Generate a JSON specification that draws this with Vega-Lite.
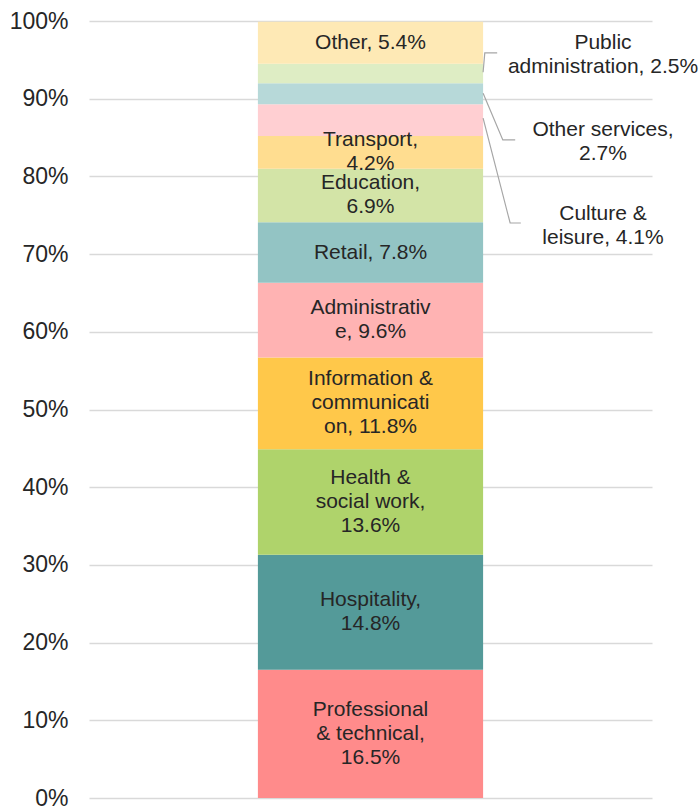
{
  "$schema": "https://vega.github.io/schema/vega-lite/v6.json",
  "width": 563,
  "height": 777,
  "autosize": {"type": "none"},
  "padding": {"left": 89, "top": 21, "right": 48, "bottom": 12},
  "background": "white",
  "config": {
    "view": {"stroke": null},
    "font": "Liberation Sans",
    "text": {"font": "Liberation Sans"}
  },
  "datasets": {
    "segments": [
      {"sector": "Professional & technical", "order": 1, "value": 16.5, "label": "Professional\n& technical,\n16.5%"},
      {"sector": "Hospitality", "order": 2, "value": 14.8, "label": "Hospitality,\n14.8%"},
      {"sector": "Health & social work", "order": 3, "value": 13.6, "label": "Health &\nsocial work,\n13.6%"},
      {"sector": "Information & communication", "order": 4, "value": 11.8, "label": "Information &\ncommunicati\non, 11.8%"},
      {"sector": "Administrative", "order": 5, "value": 9.6, "label": "Administrativ\ne, 9.6%"},
      {"sector": "Retail", "order": 6, "value": 7.8, "label": "Retail, 7.8%"},
      {"sector": "Education", "order": 7, "value": 6.9, "label": "Education,\n6.9%"},
      {"sector": "Transport", "order": 8, "value": 4.2, "label": "Transport,\n4.2%"},
      {"sector": "Culture & leisure", "order": 9, "value": 4.1, "label": ""},
      {"sector": "Other services", "order": 10, "value": 2.7, "label": ""},
      {"sector": "Public administration", "order": 11, "value": 2.5, "label": ""},
      {"sector": "Other", "order": 12, "value": 5.4, "label": "Other, 5.4%"}
    ],
    "leaders": [
      {"sector": "Public administration", "step": 1, "x": 70.0, "y": 93.4},
      {"sector": "Public administration", "step": 2, "x": 70.3, "y": 95.9},
      {"sector": "Public administration", "step": 3, "x": 72.5, "y": 95.9},
      {"sector": "Other services", "step": 1, "x": 70.0, "y": 90.7},
      {"sector": "Other services", "step": 2, "x": 73.5, "y": 84.7},
      {"sector": "Other services", "step": 3, "x": 75.7, "y": 84.7},
      {"sector": "Culture & leisure", "step": 1, "x": 70.0, "y": 87.5},
      {"sector": "Culture & leisure", "step": 2, "x": 74.8, "y": 74.0},
      {"sector": "Culture & leisure", "step": 3, "x": 76.7, "y": 74.0}
    ],
    "callouts": [
      {"sector": "Public administration", "x": 91.3, "y": 95.6, "label": "Public\nadministration, 2.5%"},
      {"sector": "Other services", "x": 91.3, "y": 84.4, "label": "Other services,\n2.7%"},
      {"sector": "Culture & leisure", "x": 91.3, "y": 73.6, "label": "Culture &\nleisure, 4.1%"}
    ]
  },
  "layer": [
    {
      "data": {"name": "segments"},
      "transform": [
        {"stack": "value", "groupby": [], "sort": [{"field": "order", "order": "ascending"}], "as": ["y0", "y1"]}
      ],
      "mark": {"type": "bar"},
      "encoding": {
        "x": {"datum": 30, "type": "quantitative", "scale": {"domain": [0, 100], "nice": false, "zero": false}, "axis": null},
        "x2": {"datum": 70},
        "y": {"field": "y0", "type": "quantitative", "scale": {"domain": [0, 100], "nice": false},
          "axis": {
            "values": [0, 10, 20, 30, 40, 50, 60, 70, 80, 90, 100],
            "labelExpr": "datum.value + '%'",
            "title": null,
            "domain": false,
            "ticks": false,
            "labelPadding": 21,
            "labelFontSize": 23,
            "labelFont": "Liberation Sans",
            "labelColor": "#262626",
            "grid": true,
            "gridColor": "#D9D9D9",
            "gridWidth": 1.6
          }
        },
        "y2": {"field": "y1"},
        "color": {
          "field": "sector",
          "type": "nominal",
          "legend": null,
          "scale": {
            "domain": ["Professional & technical", "Hospitality", "Health & social work", "Information & communication", "Administrative", "Retail", "Education", "Transport", "Culture & leisure", "Other services", "Public administration", "Other"],
            "range": ["#FF8B8B", "#549A99", "#AFD36B", "#FFC84A", "#FFB3B3", "#93C4C4", "#D3E4A7", "#FFDD90", "#FFCFD2", "#B7D9D9", "#DEEDC4", "#FEE9B5"]
          }
        }
      }
    },
    {
      "data": {"name": "segments"},
      "transform": [
        {"stack": "value", "groupby": [], "sort": [{"field": "order", "order": "ascending"}], "as": ["y0", "y1"]},
        {"filter": "datum.label != ''"},
        {"calculate": "(datum.y0 + datum.y1) / 2", "as": "mid"},
        {"calculate": "length(split(datum.label, '\\n'))", "as": "nlines"}
      ],
      "encoding": {
        "x": {"datum": 50, "type": "quantitative"},
        "y": {"field": "mid", "type": "quantitative"},
        "text": {"field": "label"}
      },
      "layer": [
        {
          "transform": [{"filter": "datum.nlines == 1"}],
          "mark": {"type": "text", "fontSize": 21, "lineHeight": 24, "lineBreak": "\n", "color": "#262626", "align": "center", "baseline": "middle", "dy": 0}
        },
        {
          "transform": [{"filter": "datum.nlines == 2"}],
          "mark": {"type": "text", "fontSize": 21, "lineHeight": 24, "lineBreak": "\n", "color": "#262626", "align": "center", "baseline": "middle", "dy": -12}
        },
        {
          "transform": [{"filter": "datum.nlines == 3"}],
          "mark": {"type": "text", "fontSize": 21, "lineHeight": 24, "lineBreak": "\n", "color": "#262626", "align": "center", "baseline": "middle", "dy": -24}
        }
      ]
    },
    {
      "data": {"name": "leaders"},
      "mark": {"type": "line", "color": "#A6A6A6", "strokeWidth": 1.2},
      "encoding": {
        "x": {"field": "x", "type": "quantitative"},
        "y": {"field": "y", "type": "quantitative"},
        "detail": {"field": "sector"},
        "order": {"field": "step"}
      }
    },
    {
      "data": {"name": "callouts"},
      "mark": {"type": "text", "fontSize": 21, "lineHeight": 24, "lineBreak": "\n", "color": "#262626", "align": "center", "baseline": "middle", "dy": -12},
      "encoding": {
        "x": {"field": "x", "type": "quantitative"},
        "y": {"field": "y", "type": "quantitative"},
        "text": {"field": "label"}
      }
    }
  ]
}
